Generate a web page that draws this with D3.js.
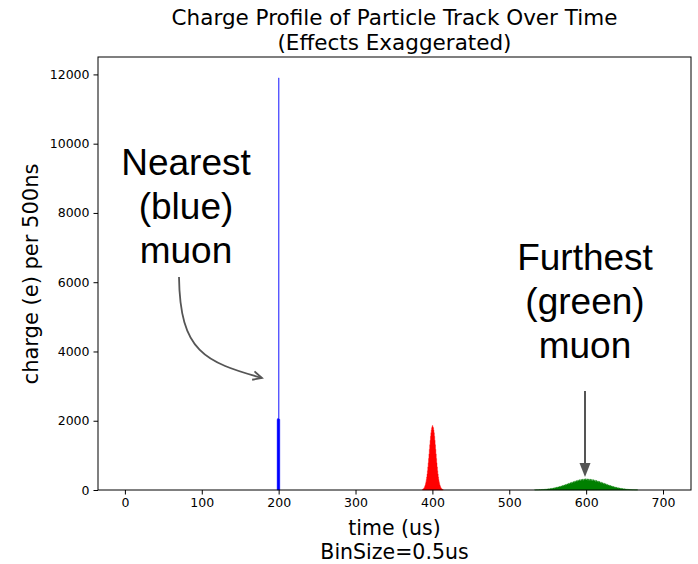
<!DOCTYPE html>
<html>
<head>
<meta charset="utf-8">
<script src="https://cdn.jsdelivr.net/npm/d3@7"></script>
<style>
  body { margin: 0; background: #fff; }
  svg { display: block; }
</style>
</head>
<body>
<div id="chart"></div>
<script>
// bin size 0.5us, values are charge (e) per bin
var binSize = 0.5;

var blueStart = 198.0;
var blueCounts = [2040, 2060, 2050, 2070, 11900, 2050, 2040];

var redStart = 387.0;
var redCounts = [15, 22, 31, 44, 60, 82, 109, 143, 186, 239, 302, 376, 462, 559, 667, 785, 911, 1042, 1176, 1308, 1434, 1550, 1652, 1736, 1798, 1837, 1862,
    1820, 1798, 1736, 1652, 1550, 1434, 1308, 1176, 1042, 911, 785, 667, 559, 462, 376, 302, 239, 186, 143, 109, 82, 60, 44, 31, 22, 15, 11];

// green drawn at 1us steps
var greenStart = 533;
var greenStep = 1;
var greenCounts = [5, 3, 8, 5, 9, 7, 12, 9, 14, 11, 17, 14, 20, 17, 25, 21, 30, 26, 35, 31, 42, 38, 49, 45, 58, 53, 67, 62, 78, 72, 89, 84, 101, 96,
    115, 109, 128, 122, 144, 137, 160, 151, 176, 166, 193, 183, 209, 197, 225, 212, 241, 226, 256, 238, 270, 251, 284, 262, 294, 270, 303, 278, 311,
    283, 318, 287, 322, 289, 320, 285, 315, 284, 309, 276, 302, 268, 293, 260, 283, 249, 271, 236, 257, 224, 242, 209, 226, 195, 210, 180, 193, 164,
    177, 149, 161, 135, 144, 120, 129, 107, 114, 95, 100, 82, 88, 71, 76, 61, 66, 52, 56, 44, 47, 37, 40, 31, 34, 25, 28, 20, 23, 16, 19, 13, 15, 10,
    12, 8, 10, 6, 8, 5, 6, 4];

var xTicks = [0, 100, 200, 300, 400, 500, 600, 700];
var yTicks = [0, 2000, 4000, 6000, 8000, 10000, 12000];

var width = 698;
var height = 564;
var margin = { top: 57, right: 7, bottom: 74, left: 98 };

var svg = d3.select("#chart")
    .append("svg")
    .attr("width", width)
    .attr("height", height);

var x = d3.scaleLinear().domain([-35, 736.4]).range([margin.left, width - margin.right]);
var y = d3.scaleLinear().domain([0, 12503]).range([height - margin.bottom, margin.top]);

function toBins(start, step, counts) {
    var pts = counts.map(function (v, i) { return { t: start + i * step, v: v }; });
    pts.push({ t: start + counts.length * step, v: counts[counts.length - 1] });
    return pts;
}

var area = d3.area()
    .curve(d3.curveStepAfter)
    .x(function (d) { return x(d.t); })
    .y0(y(0))
    .y1(function (d) { return y(d.v); });

var series = [
    { bins: toBins(blueStart, binSize, blueCounts), colour: "#0000ff" },
    { bins: toBins(redStart, binSize, redCounts), colour: "#ff0000" },
    { bins: toBins(greenStart, greenStep, greenCounts), colour: "#008000" }
];

svg.selectAll("path.hist")
    .data(series)
    .enter()
    .append("path")
    .attr("class", "hist")
    .attr("d", function (d) { return area(d.bins); })
    .attr("fill", function (d) { return d.colour; })
    .attr("stroke", function (d) { return d.colour; })
    .attr("stroke-width", 0.5)
    .attr("stroke-opacity", 0.8);

// axes
var xAxis = svg.append("g")
    .attr("transform", "translate(0," + y(0) + ")")
    .call(d3.axisBottom(x).tickValues(xTicks).tickSize(4.5).tickPadding(4));
var yAxis = svg.append("g")
    .attr("transform", "translate(" + margin.left + ",0)")
    .call(d3.axisLeft(y).tickValues(yTicks).tickFormat(d3.format("d")).tickSize(4.5).tickPadding(4));

svg.selectAll(".tick text")
    .style("font-family", "'DejaVu Sans', sans-serif")
    .style("font-size", "12.5px")
    .attr("fill", "#000");
svg.selectAll(".domain").remove();

svg.append("rect")
    .attr("x", margin.left)
    .attr("y", margin.top)
    .attr("width", width - margin.left - margin.right)
    .attr("height", height - margin.top - margin.bottom)
    .attr("fill", "none")
    .attr("stroke", "#000")
    .attr("stroke-width", 1);

// titles
var title = svg.append("text")
    .attr("text-anchor", "middle")
    .style("font-family", "'DejaVu Sans', sans-serif")
    .style("font-size", "21.5px");
title.append("tspan").attr("x", 394.5).attr("y", 25).text("Charge Profile of Particle Track Over Time");
title.append("tspan").attr("x", 394.5).attr("y", 50).text("(Effects Exaggerated)");

var xLabel = svg.append("text")
    .attr("text-anchor", "middle")
    .style("font-family", "'DejaVu Sans', sans-serif")
    .style("font-size", "20.5px");
xLabel.append("tspan").attr("x", 394.5).attr("y", 535).text("time (us)");
xLabel.append("tspan").attr("x", 394.5).attr("y", 559).text("BinSize=0.5us");

svg.append("text")
    .attr("transform", "translate(38," + 274 + ") rotate(-90)")
    .attr("text-anchor", "middle")
    .style("font-family", "'DejaVu Sans', sans-serif")
    .style("font-size", "21px")
    .text("charge (e) per 500ns");

// annotations
function note(cx, baseY, lines) {
    var t = svg.append("text")
        .attr("text-anchor", "middle")
        .style("font-family", "'Liberation Sans', Arial, sans-serif")
        .style("font-size", "37px")
        .attr("fill", "#000");
    lines.forEach(function (s, i) {
        t.append("tspan").attr("x", cx).attr("y", baseY + i * 44).text(s);
    });
}
note(186, 175, ["Nearest", "(blue)", "muon"]);
note(585, 270, ["Furthest", "(green)", "muon"]);

var arrowColour = "#555";
svg.append("path")
    .attr("d", "M179,277 C180,352 205,362 262,378")
    .attr("fill", "none")
    .attr("stroke", arrowColour)
    .attr("stroke-width", 1.8);
// open arrow head
var ang = Math.atan2(378 - 362, 262 - 205);
var headLen = 10;
svg.append("path")
    .attr("d", "M" + (262 - headLen * Math.cos(ang - 0.45)) + "," + (378 - headLen * Math.sin(ang - 0.45)) +
        " L262,378 L" + (262 - headLen * Math.cos(ang + 0.45)) + "," + (378 - headLen * Math.sin(ang + 0.45)))
    .attr("fill", "none")
    .attr("stroke", arrowColour)
    .attr("stroke-width", 1.8);

svg.append("line")
    .attr("x1", 585).attr("y1", 391)
    .attr("x2", 585).attr("y2", 466)
    .attr("stroke", arrowColour)
    .attr("stroke-width", 2);
svg.append("path")
    .attr("d", "M579.5,463 L590.5,463 L585,477 Z")
    .attr("fill", arrowColour);
</script>
</body>
</html>
